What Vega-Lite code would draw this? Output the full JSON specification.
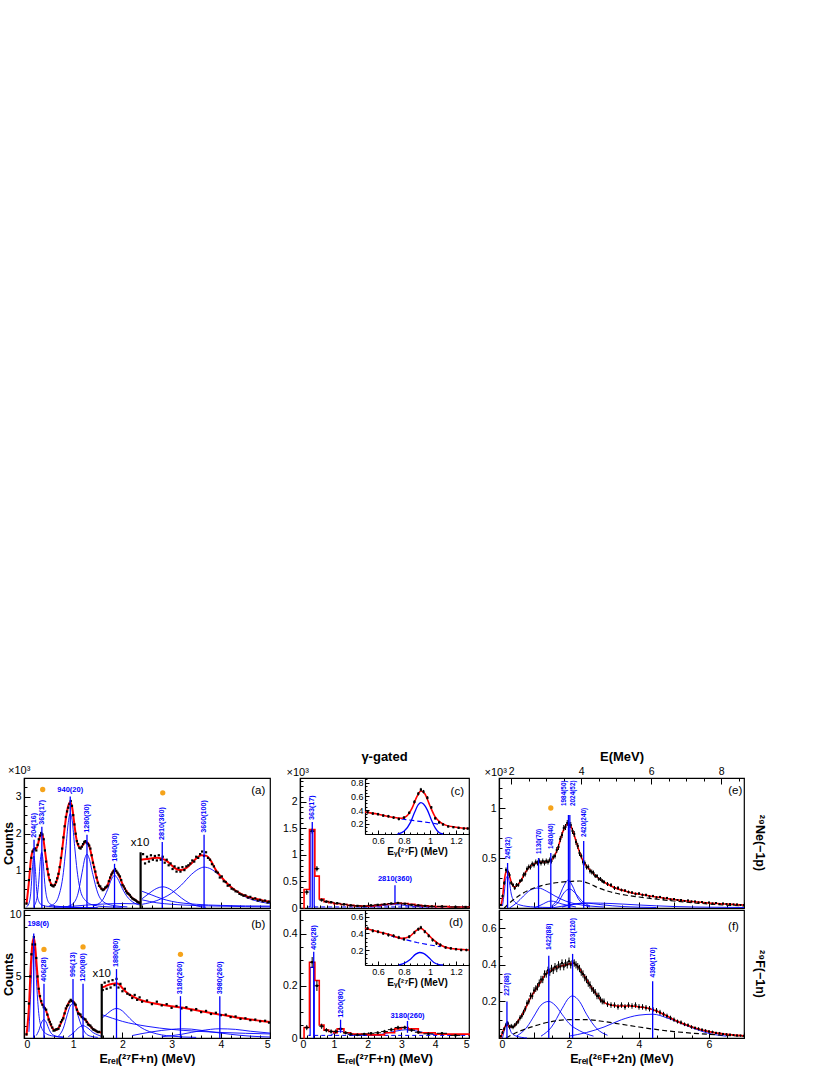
{
"$schema": "https://vega.github.io/schema/vega-lite/v6.json",
"padding": {"left": 1, "top": 749, "right": 5, "bottom": 5},
"background": "white",
"config": {
  "font": "Liberation Sans",
  "view": {"stroke": "black", "strokeWidth": 1.2},
  "axis": {"grid": false, "domainColor": "black", "domainWidth": 1.2, "tickColor": "black", "tickWidth": 1, "tickSize": -5, "labelPadding": 9, "labelColor": "black", "labelFont": "Liberation Sans", "labelFontSize": 10.5, "titleFont": "Liberation Sans", "titleFontWeight": "bold", "titleFontSize": 12.5, "titleColor": "black"},
  "title": {"font": "Liberation Sans", "color": "black"},
  "text": {"font": "Liberation Sans"}
},
"columns": 3,
"spacing": {"row": 2, "column": 30},
"bounds": "flush",
"datasets": {
  "a_pts": [
    {"x":0.05,"y":0.12},{"x":0.1,"y":0.75},{"x":0.125,"y":1.05},{"x":0.15,"y":1.35},{"x":0.175,"y":1.52},{"x":0.2,"y":1.58},{"x":0.225,"y":1.6},{"x":0.25,"y":1.55},{"x":0.275,"y":1.7},{"x":0.3,"y":1.85},{"x":0.325,"y":1.95},{"x":0.35,"y":2.02},{"x":0.375,"y":1.98},{"x":0.4,"y":1.85},{"x":0.425,"y":1.55},{"x":0.45,"y":1.25},{"x":0.475,"y":1.05},{"x":0.5,"y":0.9},{"x":0.525,"y":0.75},{"x":0.55,"y":0.62},{"x":0.575,"y":0.6},{"x":0.6,"y":0.58},{"x":0.625,"y":0.62},{"x":0.65,"y":0.7},{"x":0.675,"y":0.8},{"x":0.7,"y":0.92},{"x":0.725,"y":1.1},{"x":0.75,"y":1.35},{"x":0.775,"y":1.6},{"x":0.8,"y":1.9},{"x":0.825,"y":2.2},{"x":0.85,"y":2.45},{"x":0.875,"y":2.6},{"x":0.9,"y":2.7},{"x":0.925,"y":2.8},{"x":0.95,"y":2.88},{"x":0.975,"y":2.75},{"x":1.0,"y":2.5},{"x":1.025,"y":2.25},{"x":1.05,"y":2.0},{"x":1.075,"y":1.8},{"x":1.1,"y":1.72},{"x":1.125,"y":1.62},{"x":1.15,"y":1.6},{"x":1.175,"y":1.65},{"x":1.2,"y":1.72},{"x":1.225,"y":1.78},{"x":1.25,"y":1.8},{"x":1.275,"y":1.75},{"x":1.3,"y":1.72},{"x":1.325,"y":1.68},{"x":1.35,"y":1.6},{"x":1.375,"y":1.42},{"x":1.4,"y":1.22},{"x":1.425,"y":1.1},{"x":1.45,"y":0.98},{"x":1.475,"y":0.82},{"x":1.5,"y":0.68},{"x":1.525,"y":0.6},{"x":1.55,"y":0.58},{"x":1.575,"y":0.52},{"x":1.6,"y":0.48},{"x":1.625,"y":0.5},{"x":1.65,"y":0.55},{"x":1.675,"y":0.57},{"x":1.7,"y":0.6},{"x":1.725,"y":0.72},{"x":1.75,"y":0.82},{"x":1.775,"y":0.9},{"x":1.8,"y":0.95},{"x":1.825,"y":1.0},{"x":1.85,"y":1.05},{"x":1.875,"y":1.0},{"x":1.9,"y":0.95},{"x":1.925,"y":0.9},{"x":1.95,"y":0.85},{"x":1.975,"y":0.75},{"x":2.0,"y":0.62},{"x":2.025,"y":0.58},{"x":2.05,"y":0.52},{"x":2.075,"y":0.45},{"x":2.1,"y":0.4},{"x":2.125,"y":0.38},{"x":2.15,"y":0.35},{"x":2.175,"y":0.3},{"x":2.2,"y":0.26},{"x":2.225,"y":0.24},{"x":2.25,"y":0.22},{"x":2.275,"y":0.2},{"x":2.3,"y":0.17},{"x":2.325,"y":0.15},{"x":2.35,"y":0.14},
    {"x":2.42,"y":1.45},{"x":2.46,"y":1.2},{"x":2.5,"y":1.38},{"x":2.54,"y":1.25},{"x":2.58,"y":1.42},{"x":2.62,"y":1.3},{"x":2.66,"y":1.4},{"x":2.7,"y":1.28},{"x":2.74,"y":1.42},{"x":2.78,"y":1.3},{"x":2.82,"y":1.38},{"x":2.86,"y":1.22},{"x":2.9,"y":1.3},{"x":2.94,"y":1.15},{"x":2.98,"y":1.2},{"x":3.02,"y":1.05},{"x":3.06,"y":1.12},{"x":3.1,"y":0.98},{"x":3.14,"y":1.08},{"x":3.18,"y":0.98},{"x":3.22,"y":1.1},{"x":3.26,"y":1.02},{"x":3.3,"y":1.12},{"x":3.34,"y":1.15},{"x":3.38,"y":1.2},{"x":3.42,"y":1.28},{"x":3.46,"y":1.25},{"x":3.5,"y":1.38},{"x":3.54,"y":1.35},{"x":3.58,"y":1.45},{"x":3.62,"y":1.52},{"x":3.66,"y":1.4},{"x":3.7,"y":1.5},{"x":3.74,"y":1.35},{"x":3.78,"y":1.3},{"x":3.82,"y":1.18},{"x":3.86,"y":1.12},{"x":3.9,"y":0.98},{"x":3.94,"y":0.95},{"x":3.98,"y":0.82},{"x":4.02,"y":0.85},{"x":4.06,"y":0.72},{"x":4.1,"y":0.7},{"x":4.14,"y":0.6},{"x":4.18,"y":0.62},{"x":4.22,"y":0.52},{"x":4.26,"y":0.5},{"x":4.3,"y":0.45},{"x":4.34,"y":0.44},{"x":4.38,"y":0.38},{"x":4.42,"y":0.36},{"x":4.46,"y":0.33},{"x":4.5,"y":0.34},{"x":4.55,"y":0.28},{"x":4.6,"y":0.3},{"x":4.65,"y":0.24},{"x":4.7,"y":0.26},{"x":4.75,"y":0.2},{"x":4.8,"y":0.22},{"x":4.85,"y":0.18},{"x":4.9,"y":0.2},{"x":4.95,"y":0.15},{"x":4.98,"y":0.17}
  ],
  "a_fit": [
    {"s":"L","x":0.05,"y":0.1},{"s":"L","x":0.1,"y":0.7},{"s":"L","x":0.14,"y":1.3},{"s":"L","x":0.18,"y":1.55},{"s":"L","x":0.22,"y":1.6},{"s":"L","x":0.26,"y":1.62},{"s":"L","x":0.3,"y":1.8},{"s":"L","x":0.34,"y":1.98},{"s":"L","x":0.38,"y":1.95},{"s":"L","x":0.42,"y":1.6},{"s":"L","x":0.46,"y":1.2},{"s":"L","x":0.5,"y":0.85},{"s":"L","x":0.55,"y":0.65},{"s":"L","x":0.6,"y":0.6},{"s":"L","x":0.65,"y":0.68},{"s":"L","x":0.7,"y":0.9},{"s":"L","x":0.75,"y":1.3},{"s":"L","x":0.8,"y":1.85},{"s":"L","x":0.85,"y":2.4},{"s":"L","x":0.9,"y":2.75},{"s":"L","x":0.94,"y":2.85},{"s":"L","x":0.98,"y":2.7},{"s":"L","x":1.02,"y":2.3},{"s":"L","x":1.06,"y":1.9},{"s":"L","x":1.1,"y":1.68},{"s":"L","x":1.15,"y":1.62},{"s":"L","x":1.2,"y":1.7},{"s":"L","x":1.25,"y":1.78},{"s":"L","x":1.3,"y":1.75},{"s":"L","x":1.35,"y":1.55},{"s":"L","x":1.4,"y":1.25},{"s":"L","x":1.45,"y":0.95},{"s":"L","x":1.5,"y":0.7},{"s":"L","x":1.55,"y":0.55},{"s":"L","x":1.6,"y":0.5},{"s":"L","x":1.65,"y":0.52},{"s":"L","x":1.7,"y":0.62},{"s":"L","x":1.75,"y":0.8},{"s":"L","x":1.8,"y":0.97},{"s":"L","x":1.84,"y":1.02},{"s":"L","x":1.88,"y":0.98},{"s":"L","x":1.95,"y":0.82},{"s":"L","x":2.0,"y":0.65},{"s":"L","x":2.1,"y":0.42},{"s":"L","x":2.2,"y":0.27},{"s":"L","x":2.3,"y":0.18},{"s":"L","x":2.37,"y":0.13},
    {"s":"R","x":2.37,"y":1.3},{"s":"R","x":2.5,"y":1.32},{"s":"R","x":2.6,"y":1.34},{"s":"R","x":2.7,"y":1.35},{"s":"R","x":2.8,"y":1.33},{"s":"R","x":2.9,"y":1.27},{"s":"R","x":3.0,"y":1.15},{"s":"R","x":3.1,"y":1.05},{"s":"R","x":3.2,"y":1.02},{"s":"R","x":3.3,"y":1.08},{"s":"R","x":3.4,"y":1.2},{"s":"R","x":3.5,"y":1.33},{"s":"R","x":3.6,"y":1.42},{"s":"R","x":3.7,"y":1.41},{"s":"R","x":3.8,"y":1.27},{"s":"R","x":3.9,"y":1.02},{"s":"R","x":4.0,"y":0.85},{"s":"R","x":4.1,"y":0.7},{"s":"R","x":4.2,"y":0.57},{"s":"R","x":4.3,"y":0.47},{"s":"R","x":4.4,"y":0.39},{"s":"R","x":4.5,"y":0.33},{"s":"R","x":4.6,"y":0.28},{"s":"R","x":4.7,"y":0.25},{"s":"R","x":4.8,"y":0.22},{"s":"R","x":4.9,"y":0.19},{"s":"R","x":5.0,"y":0.17}
  ],
  "a_cmp": [
    {"c":"1","x":0.05,"y":0.03},{"c":"1","x":0.1,"y":0.12},{"c":"1","x":0.14,"y":0.45},{"c":"1","x":0.17,"y":1.05},{"c":"1","x":0.2,"y":1.4},{"c":"1","x":0.23,"y":1.05},{"c":"1","x":0.26,"y":0.45},{"c":"1","x":0.3,"y":0.18},{"c":"1","x":0.36,"y":0.08},{"c":"1","x":0.5,"y":0.04},{"c":"1","x":0.8,"y":0.02},{"c":"1","x":1.2,"y":0.01},
    {"c":"2","x":0.2,"y":0.05},{"c":"2","x":0.26,"y":0.25},{"c":"2","x":0.3,"y":0.7},{"c":"2","x":0.33,"y":1.25},{"c":"2","x":0.36,"y":1.5},{"c":"2","x":0.39,"y":1.25},{"c":"2","x":0.42,"y":0.7},{"c":"2","x":0.46,"y":0.3},{"c":"2","x":0.52,"y":0.12},{"c":"2","x":0.65,"y":0.05},{"c":"2","x":1.0,"y":0.02},{"c":"2","x":1.5,"y":0.01},
    {"c":"3","x":0.5,"y":0.05},{"c":"3","x":0.6,"y":0.1},{"c":"3","x":0.7,"y":0.3},{"c":"3","x":0.8,"y":0.95},{"c":"3","x":0.85,"y":1.6},{"c":"3","x":0.9,"y":2.3},{"c":"3","x":0.94,"y":2.55},{"c":"3","x":0.98,"y":2.35},{"c":"3","x":1.03,"y":1.65},{"c":"3","x":1.08,"y":1.0},{"c":"3","x":1.15,"y":0.45},{"c":"3","x":1.25,"y":0.2},{"c":"3","x":1.4,"y":0.08},{"c":"3","x":1.6,"y":0.04},{"c":"3","x":2.0,"y":0.02},
    {"c":"4","x":0.9,"y":0.05},{"c":"4","x":1.0,"y":0.12},{"c":"4","x":1.1,"y":0.4},{"c":"4","x":1.18,"y":0.95},{"c":"4","x":1.24,"y":1.35},{"c":"4","x":1.28,"y":1.45},{"c":"4","x":1.32,"y":1.35},{"c":"4","x":1.4,"y":0.9},{"c":"4","x":1.5,"y":0.4},{"c":"4","x":1.6,"y":0.18},{"c":"4","x":1.8,"y":0.07},{"c":"4","x":2.1,"y":0.03},
    {"c":"5","x":1.4,"y":0.05},{"c":"5","x":1.5,"y":0.1},{"c":"5","x":1.6,"y":0.22},{"c":"5","x":1.7,"y":0.5},{"c":"5","x":1.78,"y":0.78},{"c":"5","x":1.84,"y":0.88},{"c":"5","x":1.9,"y":0.8},{"c":"5","x":2.0,"y":0.52},{"c":"5","x":2.1,"y":0.3},{"c":"5","x":2.2,"y":0.17},{"c":"5","x":2.3,"y":0.1},{"c":"5","x":2.37,"y":0.08},
    {"c":"6","x":2.4,"y":0.25},{"c":"6","x":2.5,"y":0.35},{"c":"6","x":2.6,"y":0.45},{"c":"6","x":2.7,"y":0.53},{"c":"6","x":2.82,"y":0.57},{"c":"6","x":2.95,"y":0.52},{"c":"6","x":3.05,"y":0.43},{"c":"6","x":3.2,"y":0.27},{"c":"6","x":3.35,"y":0.14},{"c":"6","x":3.5,"y":0.06},{"c":"6","x":3.7,"y":0.02},
    {"c":"7","x":2.4,"y":0.1},{"c":"7","x":2.7,"y":0.2},{"c":"7","x":3.0,"y":0.4},{"c":"7","x":3.2,"y":0.62},{"c":"7","x":3.4,"y":0.9},{"c":"7","x":3.55,"y":1.05},{"c":"7","x":3.66,"y":1.1},{"c":"7","x":3.8,"y":1.05},{"c":"7","x":3.95,"y":0.9},{"c":"7","x":4.1,"y":0.7},{"c":"7","x":4.3,"y":0.47},{"c":"7","x":4.5,"y":0.3},{"c":"7","x":4.7,"y":0.2},{"c":"7","x":4.9,"y":0.14},{"c":"7","x":5.0,"y":0.12},
    {"c":"8","x":2.4,"y":0.45},{"c":"8","x":2.6,"y":0.35},{"c":"8","x":2.8,"y":0.25},{"c":"8","x":3.0,"y":0.18},{"c":"8","x":3.5,"y":0.1},{"c":"8","x":4.0,"y":0.07},{"c":"8","x":5.0,"y":0.05},
    {"c":"9","x":2.4,"y":0.22},{"c":"9","x":2.7,"y":0.14},{"c":"9","x":3.0,"y":0.1},{"c":"9","x":4.0,"y":0.05},{"c":"9","x":5.0,"y":0.03},
    {"c":"10","x":0.6,"y":0.02},{"c":"10","x":1.0,"y":0.05},{"c":"10","x":1.5,"y":0.1},{"c":"10","x":2.0,"y":0.12},{"c":"10","x":2.37,"y":0.11}
  ],
  "a_rule": [{"x":0.204,"y":1.84,"y0":0},{"x":0.363,"y":2.19,"y0":0},{"x":0.94,"y":3.0,"y0":0},{"x":1.28,"y":1.97,"y0":0},{"x":1.84,"y":1.19,"y0":0},{"x":2.81,"y":1.78,"y0":0},{"x":3.66,"y":1.97,"y0":0}],
  "a_lab": [{"x":0.204,"y":1.84,"t":"204(16)"},{"x":0.363,"y":2.19,"t":"363(17)"},{"x":1.28,"y":1.97,"t":"1280(30)"},{"x":1.84,"y":1.19,"t":"1840(30)"},{"x":2.81,"y":1.78,"t":"2810(360)"},{"x":3.66,"y":1.97,"t":"3660(100)"}],
  "a_labh": [{"x":0.94,"y":3.08,"t":"940(20)"}],
  "a_dot": [{"x":0.38,"y":3.19},{"x":2.82,"y":3.1}],
  "a_bar": [{"x":2.37,"y":1.5,"y0":0}],
  "a_txt": [{"x":2.36,"y":1.74,"t":"x10"},{"x":4.76,"y":3.14,"t":"(a)"}],

  "b_pts": [
    {"x":0.05,"y":0.3},{"x":0.1,"y":2.8},{"x":0.125,"y":5.0},{"x":0.15,"y":6.8},{"x":0.175,"y":7.6},{"x":0.2,"y":8.2},{"x":0.225,"y":7.6},{"x":0.25,"y":6.5},{"x":0.275,"y":5.0},{"x":0.3,"y":4.0},{"x":0.325,"y":3.4},{"x":0.35,"y":3.0},{"x":0.375,"y":2.7},{"x":0.4,"y":2.5},{"x":0.425,"y":2.4},{"x":0.45,"y":2.3},{"x":0.475,"y":1.9},{"x":0.5,"y":1.5},{"x":0.525,"y":1.3},{"x":0.55,"y":1.1},{"x":0.575,"y":0.85},{"x":0.6,"y":0.6},{"x":0.625,"y":0.62},{"x":0.65,"y":0.7},{"x":0.675,"y":0.72},{"x":0.7,"y":0.75},{"x":0.725,"y":1.0},{"x":0.75,"y":1.3},{"x":0.775,"y":1.45},{"x":0.8,"y":1.6},{"x":0.825,"y":2.0},{"x":0.85,"y":2.4},{"x":0.875,"y":2.6},{"x":0.9,"y":2.7},{"x":0.925,"y":2.95},{"x":0.95,"y":3.1},{"x":0.975,"y":3.0},{"x":1.0,"y":2.9},{"x":1.025,"y":2.8},{"x":1.05,"y":2.7},{"x":1.075,"y":2.3},{"x":1.1,"y":2.0},{"x":1.125,"y":1.95},{"x":1.15,"y":1.9},{"x":1.175,"y":1.7},{"x":1.2,"y":1.6},{"x":1.225,"y":1.55},{"x":1.25,"y":1.5},{"x":1.275,"y":1.3},{"x":1.3,"y":1.1},{"x":1.325,"y":1.05},{"x":1.35,"y":1.0},{"x":1.375,"y":0.85},{"x":1.4,"y":0.7},{"x":1.425,"y":0.68},{"x":1.45,"y":0.62},{"x":1.475,"y":0.55},{"x":1.5,"y":0.48},{"x":1.525,"y":0.5},
    {"x":1.6,"y":3.9},{"x":1.64,"y":4.5},{"x":1.68,"y":4.0},{"x":1.72,"y":4.6},{"x":1.76,"y":4.1},{"x":1.8,"y":4.7},{"x":1.84,"y":4.3},{"x":1.88,"y":4.8},{"x":1.92,"y":4.1},{"x":1.96,"y":4.4},{"x":2.0,"y":3.8},{"x":2.05,"y":4.0},{"x":2.1,"y":3.6},{"x":2.15,"y":3.5},{"x":2.2,"y":3.25},{"x":2.25,"y":3.5},{"x":2.3,"y":3.1},{"x":2.35,"y":3.3},{"x":2.4,"y":2.95},{"x":2.5,"y":3.05},{"x":2.6,"y":2.75},{"x":2.7,"y":2.95},{"x":2.8,"y":2.65},{"x":2.9,"y":2.75},{"x":3.0,"y":2.45},{"x":3.1,"y":2.6},{"x":3.2,"y":2.4},{"x":3.3,"y":2.5},{"x":3.4,"y":2.25},{"x":3.5,"y":2.35},{"x":3.6,"y":2.1},{"x":3.7,"y":2.2},{"x":3.8,"y":1.95},{"x":3.9,"y":2.05},{"x":4.0,"y":1.85},{"x":4.1,"y":1.9},{"x":4.2,"y":1.7},{"x":4.3,"y":1.75},{"x":4.4,"y":1.55},{"x":4.5,"y":1.6},{"x":4.6,"y":1.45},{"x":4.7,"y":1.5},{"x":4.8,"y":1.35},{"x":4.9,"y":1.4},{"x":4.98,"y":1.25}
  ],
  "b_fit": [
    {"s":"L","x":0.05,"y":0.2},{"s":"L","x":0.1,"y":2.5},{"s":"L","x":0.14,"y":6.0},{"s":"L","x":0.18,"y":7.9},{"s":"L","x":0.2,"y":8.1},{"s":"L","x":0.22,"y":7.7},{"s":"L","x":0.26,"y":5.8},{"s":"L","x":0.3,"y":3.9},{"s":"L","x":0.35,"y":2.9},{"s":"L","x":0.4,"y":2.6},{"s":"L","x":0.45,"y":2.2},{"s":"L","x":0.5,"y":1.6},{"s":"L","x":0.55,"y":1.0},{"s":"L","x":0.6,"y":0.7},{"s":"L","x":0.65,"y":0.65},{"s":"L","x":0.7,"y":0.8},{"s":"L","x":0.75,"y":1.2},{"s":"L","x":0.8,"y":1.7},{"s":"L","x":0.85,"y":2.3},{"s":"L","x":0.9,"y":2.8},{"s":"L","x":0.95,"y":3.05},{"s":"L","x":1.0,"y":3.0},{"s":"L","x":1.05,"y":2.6},{"s":"L","x":1.1,"y":2.1},{"s":"L","x":1.15,"y":1.8},{"s":"L","x":1.2,"y":1.65},{"s":"L","x":1.25,"y":1.45},{"s":"L","x":1.3,"y":1.2},{"s":"L","x":1.35,"y":0.95},{"s":"L","x":1.4,"y":0.75},{"s":"L","x":1.45,"y":0.6},{"s":"L","x":1.5,"y":0.5},{"s":"L","x":1.58,"y":0.45},
    {"s":"R","x":1.58,"y":4.1},{"s":"R","x":1.65,"y":4.2},{"s":"R","x":1.7,"y":4.3},{"s":"R","x":1.8,"y":4.4},{"s":"R","x":1.88,"y":4.45},{"s":"R","x":1.95,"y":4.3},{"s":"R","x":2.0,"y":4.05},{"s":"R","x":2.1,"y":3.65},{"s":"R","x":2.2,"y":3.4},{"s":"R","x":2.3,"y":3.2},{"s":"R","x":2.4,"y":3.05},{"s":"R","x":2.6,"y":2.85},{"s":"R","x":2.8,"y":2.7},{"s":"R","x":3.0,"y":2.58},{"s":"R","x":3.2,"y":2.47},{"s":"R","x":3.4,"y":2.33},{"s":"R","x":3.6,"y":2.18},{"s":"R","x":3.8,"y":2.03},{"s":"R","x":4.0,"y":1.9},{"s":"R","x":4.2,"y":1.76},{"s":"R","x":4.4,"y":1.62},{"s":"R","x":4.6,"y":1.5},{"s":"R","x":4.8,"y":1.4},{"s":"R","x":5.0,"y":1.3}
  ],
  "b_cmp": [
    {"c":"1","x":0.1,"y":0.5},{"c":"1","x":0.14,"y":4.0},{"c":"1","x":0.17,"y":6.8},{"c":"1","x":0.2,"y":7.4},{"c":"1","x":0.23,"y":6.5},{"c":"1","x":0.26,"y":4.2},{"c":"1","x":0.3,"y":2.0},{"c":"1","x":0.35,"y":0.9},{"c":"1","x":0.45,"y":0.35},{"c":"1","x":0.6,"y":0.15},{"c":"1","x":0.8,"y":0.07},
    {"c":"2","x":0.25,"y":0.2},{"c":"2","x":0.3,"y":0.6},{"c":"2","x":0.35,"y":1.2},{"c":"2","x":0.4,"y":1.5},{"c":"2","x":0.45,"y":1.3},{"c":"2","x":0.5,"y":0.8},{"c":"2","x":0.55,"y":0.4},{"c":"2","x":0.65,"y":0.15},{"c":"2","x":0.8,"y":0.05},
    {"c":"3","x":0.7,"y":0.15},{"c":"3","x":0.8,"y":0.8},{"c":"3","x":0.88,"y":1.9},{"c":"3","x":0.94,"y":2.6},{"c":"3","x":1.0,"y":2.8},{"c":"3","x":1.05,"y":2.5},{"c":"3","x":1.1,"y":1.8},{"c":"3","x":1.18,"y":0.9},{"c":"3","x":1.25,"y":0.4},{"c":"3","x":1.35,"y":0.15},{"c":"3","x":1.5,"y":0.05},
    {"c":"4","x":0.9,"y":0.1},{"c":"4","x":1.0,"y":0.4},{"c":"4","x":1.1,"y":0.8},{"c":"4","x":1.2,"y":1.0},{"c":"4","x":1.3,"y":0.8},{"c":"4","x":1.4,"y":0.45},{"c":"4","x":1.5,"y":0.25},{"c":"4","x":1.58,"y":0.12},
    {"c":"5","x":1.58,"y":1.6},{"c":"5","x":1.7,"y":2.0},{"c":"5","x":1.8,"y":2.3},{"c":"5","x":1.88,"y":2.4},{"c":"5","x":2.0,"y":2.2},{"c":"5","x":2.1,"y":1.8},{"c":"5","x":2.2,"y":1.4},{"c":"5","x":2.4,"y":0.8},{"c":"5","x":2.6,"y":0.45},{"c":"5","x":2.8,"y":0.25},{"c":"5","x":3.0,"y":0.15},{"c":"5","x":3.5,"y":0.05},
    {"c":"6","x":1.58,"y":1.9},{"c":"6","x":1.8,"y":1.6},{"c":"6","x":2.0,"y":1.35},{"c":"6","x":2.5,"y":0.95},{"c":"6","x":3.0,"y":0.7},{"c":"6","x":3.5,"y":0.55},{"c":"6","x":4.0,"y":0.45},{"c":"6","x":5.0,"y":0.33},
    {"c":"7","x":2.2,"y":0.2},{"c":"7","x":2.6,"y":0.5},{"c":"7","x":3.0,"y":0.7},{"c":"7","x":3.2,"y":0.75},{"c":"7","x":3.4,"y":0.72},{"c":"7","x":3.8,"y":0.5},{"c":"7","x":4.2,"y":0.3},{"c":"7","x":4.6,"y":0.15},{"c":"7","x":5.0,"y":0.08},
    {"c":"8","x":2.8,"y":0.1},{"c":"8","x":3.2,"y":0.3},{"c":"8","x":3.6,"y":0.6},{"c":"8","x":3.98,"y":0.75},{"c":"8","x":4.3,"y":0.7},{"c":"8","x":4.6,"y":0.55},{"c":"8","x":5.0,"y":0.4}
  ],
  "b_rule": [{"x":0.198,"y":8.5,"y0":0},{"x":0.406,"y":4.4,"y0":0},{"x":0.996,"y":4.8,"y0":0},{"x":1.2,"y":4.4,"y0":0},{"x":1.88,"y":5.6,"y0":0},{"x":3.18,"y":3.4,"y0":0},{"x":3.98,"y":3.4,"y0":0}],
  "b_lab": [{"x":0.406,"y":4.4,"t":"406(28)"},{"x":0.996,"y":4.8,"t":"996(13)"},{"x":1.2,"y":4.4,"t":"1200(80)"},{"x":1.88,"y":5.6,"t":"1880(80)"},{"x":3.18,"y":3.4,"t":"3180(260)"},{"x":3.98,"y":3.4,"t":"3980(260)"}],
  "b_labh": [{"x":0.29,"y":8.9,"t":"198(6)"}],
  "b_dot": [{"x":0.406,"y":7.2},{"x":1.2,"y":7.4},{"x":3.18,"y":6.8}],
  "b_bar": [{"x":1.58,"y":4.4,"y0":0}],
  "b_txt": [{"x":1.58,"y":5.2,"t":"x10"},{"x":4.76,"y":9.2,"t":"(b)"}],

  "c_hist": [{"x":0.1,"y":0},{"x":0.12,"y":0.35},{"x":0.28,"y":1.48},{"x":0.44,"y":0.6},{"x":0.57,"y":0.17},{"x":0.71,"y":0.12},{"x":0.85,"y":0.1},{"x":1.0,"y":0.08},{"x":1.2,"y":0.065},{"x":1.4,"y":0.05},{"x":1.6,"y":0.04},{"x":1.8,"y":0.035},{"x":2.0,"y":0.04},{"x":2.2,"y":0.05},{"x":2.4,"y":0.065},{"x":2.6,"y":0.08},{"x":2.8,"y":0.09},{"x":3.0,"y":0.085},{"x":3.2,"y":0.07},{"x":3.4,"y":0.05},{"x":3.6,"y":0.04},{"x":3.8,"y":0.03},{"x":4.0,"y":0.025},{"x":4.4,"y":0.02},{"x":5.0,"y":0.015}],
  "c_blue": [{"x":0.25,"y":0.02},{"x":0.3,"y":1.45},{"x":0.42,"y":0.02}],
  "c_base": [{"x":0.42,"y":0.02},{"x":5.0,"y":0.02}],
  "c_cmp": [{"x":1.8,"y":0.02},{"x":2.2,"y":0.03},{"x":2.5,"y":0.05},{"x":2.8,"y":0.065},{"x":3.1,"y":0.05},{"x":3.4,"y":0.03},{"x":3.8,"y":0.02}],
  "c_pts": [{"x":0.2,"y":0.3,"e":0.05,"xe":0.07},{"x":0.36,"y":1.45,"e":0.05,"xe":0.07},{"x":0.5,"y":0.74,"e":0.05,"xe":0.07},{"x":0.64,"y":0.15,"e":0.03,"xe":0.07},{"x":0.78,"y":0.12,"e":0.02,"xe":0.07},{"x":0.92,"y":0.11,"e":0.02,"xe":0.07},{"x":1.1,"y":0.09,"e":0.02,"xe":0.1},{"x":1.3,"y":0.07,"e":0.02,"xe":0.1},{"x":1.5,"y":0.05,"e":0.015,"xe":0.1},{"x":1.7,"y":0.04,"e":0.015,"xe":0.1},{"x":1.9,"y":0.035,"e":0.015,"xe":0.1},{"x":2.1,"y":0.05,"e":0.015,"xe":0.1},{"x":2.3,"y":0.06,"e":0.015,"xe":0.1},{"x":2.5,"y":0.07,"e":0.015,"xe":0.1},{"x":2.7,"y":0.085,"e":0.015,"xe":0.1},{"x":2.9,"y":0.095,"e":0.015,"xe":0.1},{"x":3.1,"y":0.08,"e":0.015,"xe":0.1},{"x":3.3,"y":0.06,"e":0.015,"xe":0.1},{"x":3.5,"y":0.05,"e":0.015,"xe":0.1},{"x":3.7,"y":0.04,"e":0.012,"xe":0.1},{"x":3.9,"y":0.03,"e":0.012,"xe":0.1},{"x":4.2,"y":0.03,"e":0.012,"xe":0.15},{"x":4.6,"y":0.02,"e":0.01,"xe":0.15},{"x":4.9,"y":0.02,"e":0.01,"xe":0.1}],
  "c_rule": [{"x":0.363,"y":1.62,"y0":0},{"x":2.81,"y":0.43,"y0":0.1}],
  "c_lab": [{"x":0.363,"y":1.62,"t":"363(17)"}],
  "c_labh": [{"x":2.81,"y":0.47,"t":"2810(360)"}],
  "ci_pts": [{"x":0.52,"y":0.37,"e":0.02},{"x":0.56,"y":0.35,"e":0.02},{"x":0.6,"y":0.34,"e":0.02},{"x":0.64,"y":0.32,"e":0.02},{"x":0.68,"y":0.31,"e":0.02},{"x":0.72,"y":0.29,"e":0.02},{"x":0.76,"y":0.27,"e":0.02},{"x":0.8,"y":0.29,"e":0.02},{"x":0.84,"y":0.36,"e":0.02},{"x":0.88,"y":0.52,"e":0.025},{"x":0.91,"y":0.64,"e":0.025},{"x":0.93,"y":0.7,"e":0.025},{"x":0.95,"y":0.67,"e":0.025},{"x":0.98,"y":0.58,"e":0.025},{"x":1.01,"y":0.44,"e":0.02},{"x":1.04,"y":0.28,"e":0.02},{"x":1.07,"y":0.22,"e":0.02},{"x":1.1,"y":0.19,"e":0.02},{"x":1.14,"y":0.16,"e":0.015},{"x":1.18,"y":0.15,"e":0.015},{"x":1.22,"y":0.14,"e":0.015},{"x":1.26,"y":0.13,"e":0.015},{"x":1.29,"y":0.13,"e":0.015}],
  "ci_fit": [{"x":0.5,"y":0.37},{"x":0.6,"y":0.34},{"x":0.7,"y":0.3},{"x":0.78,"y":0.28},{"x":0.82,"y":0.31},{"x":0.86,"y":0.42},{"x":0.9,"y":0.6},{"x":0.93,"y":0.68},{"x":0.96,"y":0.64},{"x":1.0,"y":0.46},{"x":1.04,"y":0.3},{"x":1.08,"y":0.22},{"x":1.12,"y":0.18},{"x":1.2,"y":0.15},{"x":1.3,"y":0.13}],
  "ci_g": [{"x":0.75,"y":0.05},{"x":0.8,"y":0.09},{"x":0.85,"y":0.22},{"x":0.88,"y":0.36},{"x":0.91,"y":0.48},{"x":0.93,"y":0.51},{"x":0.95,"y":0.49},{"x":0.98,"y":0.4},{"x":1.01,"y":0.26},{"x":1.04,"y":0.14},{"x":1.07,"y":0.07},{"x":1.1,"y":0.05}],
  "ci_bg": [{"x":0.78,"y":0.27},{"x":0.9,"y":0.24},{"x":1.0,"y":0.215},{"x":1.08,"y":0.19}],
  "ci_txt": [{"x":1.21,"y":0.67,"t":"(c)"}],

  "d_hist": [{"x":0.1,"y":0},{"x":0.12,"y":0.04},{"x":0.28,"y":0.29},{"x":0.44,"y":0.22},{"x":0.57,"y":0.05},{"x":0.71,"y":0.03},{"x":0.85,"y":0.025},{"x":1.0,"y":0.02},{"x":1.1,"y":0.035},{"x":1.3,"y":0.02},{"x":1.5,"y":0.015},{"x":2.0,"y":0.012},{"x":2.5,"y":0.02},{"x":2.8,"y":0.035},{"x":3.0,"y":0.04},{"x":3.2,"y":0.035},{"x":3.5,"y":0.02},{"x":4.0,"y":0.015},{"x":5.0,"y":0.01}],
  "d_blue": [{"x":0.25,"y":0.01},{"x":0.3,"y":0.27},{"x":0.42,"y":0.01}],
  "d_base": [{"x":0.42,"y":0.01},{"x":5.0,"y":0.01}],
  "d_cmp": [{"x":0.9,"y":0.01},{"x":1.05,"y":0.02},{"x":1.2,"y":0.026},{"x":1.35,"y":0.02},{"x":1.5,"y":0.01},{"x":2.2,"y":0.01},{"x":2.6,"y":0.02},{"x":3.0,"y":0.03},{"x":3.2,"y":0.032},{"x":3.5,"y":0.025},{"x":4.0,"y":0.012}],
  "d_pts": [{"x":0.2,"y":0.04,"e":0.01,"xe":0.07},{"x":0.36,"y":0.29,"e":0.02,"xe":0.07},{"x":0.5,"y":0.2,"e":0.02,"xe":0.07},{"x":0.64,"y":0.045,"e":0.01,"xe":0.07},{"x":0.78,"y":0.03,"e":0.008,"xe":0.07},{"x":0.92,"y":0.025,"e":0.008,"xe":0.07},{"x":1.06,"y":0.025,"e":0.008,"xe":0.07},{"x":1.2,"y":0.035,"e":0.008,"xe":0.07},{"x":1.35,"y":0.02,"e":0.006,"xe":0.08},{"x":1.5,"y":0.015,"e":0.006,"xe":0.08},{"x":1.7,"y":0.012,"e":0.005,"xe":0.1},{"x":1.9,"y":0.015,"e":0.005,"xe":0.1},{"x":2.1,"y":0.018,"e":0.005,"xe":0.1},{"x":2.3,"y":0.02,"e":0.006,"xe":0.1},{"x":2.5,"y":0.025,"e":0.006,"xe":0.1},{"x":2.7,"y":0.032,"e":0.007,"xe":0.1},{"x":2.9,"y":0.04,"e":0.007,"xe":0.1},{"x":3.1,"y":0.04,"e":0.007,"xe":0.1},{"x":3.3,"y":0.03,"e":0.006,"xe":0.1},{"x":3.5,"y":0.022,"e":0.006,"xe":0.1},{"x":3.8,"y":0.016,"e":0.005,"xe":0.15},{"x":4.2,"y":0.018,"e":0.005,"xe":0.15},{"x":4.6,"y":0.01,"e":0.004,"xe":0.15}],
  "d_rule": [{"x":0.406,"y":0.33,"y0":0},{"x":1.2,"y":0.07,"y0":0.02},{"x":3.18,"y":0.065,"y0":0.02}],
  "d_lab": [{"x":0.406,"y":0.33,"t":"406(28)"},{"x":1.2,"y":0.07,"t":"1200(80)"}],
  "d_labh": [{"x":3.18,"y":0.07,"t":"3180(260)"}],
  "di_pts": [{"x":0.52,"y":0.46,"e":0.02},{"x":0.56,"y":0.43,"e":0.02},{"x":0.6,"y":0.42,"e":0.02},{"x":0.64,"y":0.4,"e":0.02},{"x":0.68,"y":0.38,"e":0.02},{"x":0.72,"y":0.37,"e":0.02},{"x":0.76,"y":0.35,"e":0.02},{"x":0.8,"y":0.33,"e":0.02},{"x":0.84,"y":0.36,"e":0.02},{"x":0.88,"y":0.41,"e":0.02},{"x":0.91,"y":0.45,"e":0.02},{"x":0.93,"y":0.47,"e":0.02},{"x":0.96,"y":0.42,"e":0.02},{"x":0.99,"y":0.37,"e":0.02},{"x":1.02,"y":0.32,"e":0.02},{"x":1.05,"y":0.28,"e":0.02},{"x":1.08,"y":0.26,"e":0.02},{"x":1.12,"y":0.23,"e":0.015},{"x":1.16,"y":0.22,"e":0.015},{"x":1.2,"y":0.21,"e":0.015},{"x":1.24,"y":0.2,"e":0.015},{"x":1.28,"y":0.2,"e":0.015}],
  "di_fit": [{"x":0.5,"y":0.46},{"x":0.6,"y":0.42},{"x":0.7,"y":0.38},{"x":0.78,"y":0.34},{"x":0.84,"y":0.36},{"x":0.9,"y":0.44},{"x":0.93,"y":0.46},{"x":0.97,"y":0.41},{"x":1.02,"y":0.33},{"x":1.08,"y":0.26},{"x":1.15,"y":0.22},{"x":1.3,"y":0.2}],
  "di_g": [{"x":0.76,"y":0.02},{"x":0.8,"y":0.04},{"x":0.85,"y":0.09},{"x":0.89,"y":0.15},{"x":0.92,"y":0.17},{"x":0.95,"y":0.16},{"x":0.99,"y":0.11},{"x":1.03,"y":0.05},{"x":1.07,"y":0.025},{"x":1.1,"y":0.02}],
  "di_bg": [{"x":0.7,"y":0.37},{"x":0.8,"y":0.33},{"x":0.9,"y":0.29},{"x":1.0,"y":0.26},{"x":1.08,"y":0.24}],
  "di_txt": [{"x":1.2,"y":0.53,"t":"(d)"}],

  "e_pts": [
    {"x":0.05,"y":0.03,"e":0.01},{"x":0.1,"y":0.12,"e":0.015},{"x":0.15,"y":0.25,"e":0.02},{"x":0.2,"y":0.38,"e":0.025},{"x":0.25,"y":0.36,"e":0.025},{"x":0.3,"y":0.33,"e":0.025},{"x":0.35,"y":0.25,"e":0.02},{"x":0.4,"y":0.23,"e":0.02},{"x":0.45,"y":0.2,"e":0.02},{"x":0.5,"y":0.23,"e":0.02},{"x":0.55,"y":0.23,"e":0.02},{"x":0.6,"y":0.27,"e":0.02},{"x":0.65,"y":0.28,"e":0.02},{"x":0.7,"y":0.33,"e":0.025},{"x":0.75,"y":0.34,"e":0.025},{"x":0.8,"y":0.39,"e":0.025},{"x":0.85,"y":0.41,"e":0.025},{"x":0.9,"y":0.41,"e":0.025},{"x":0.95,"y":0.44,"e":0.025},{"x":1.0,"y":0.43,"e":0.025},{"x":1.05,"y":0.46,"e":0.025},{"x":1.1,"y":0.45,"e":0.025},{"x":1.15,"y":0.47,"e":0.025},{"x":1.2,"y":0.45,"e":0.025},{"x":1.25,"y":0.47,"e":0.025},{"x":1.3,"y":0.45,"e":0.025},{"x":1.35,"y":0.47,"e":0.025},{"x":1.4,"y":0.46,"e":0.025},{"x":1.45,"y":0.48,"e":0.025},{"x":1.5,"y":0.47,"e":0.025},{"x":1.55,"y":0.51,"e":0.025},{"x":1.6,"y":0.52,"e":0.025},{"x":1.65,"y":0.58,"e":0.03},{"x":1.7,"y":0.61,"e":0.03},{"x":1.75,"y":0.69,"e":0.03},{"x":1.8,"y":0.73,"e":0.03},{"x":1.85,"y":0.8,"e":0.03},{"x":1.9,"y":0.81,"e":0.03},{"x":1.95,"y":0.85,"e":0.03},{"x":2.0,"y":0.83,"e":0.03},{"x":2.05,"y":0.83,"e":0.03},{"x":2.1,"y":0.77,"e":0.03},{"x":2.15,"y":0.74,"e":0.03},{"x":2.2,"y":0.66,"e":0.03},{"x":2.25,"y":0.62,"e":0.03},{"x":2.3,"y":0.55,"e":0.03},{"x":2.35,"y":0.52,"e":0.025},{"x":2.4,"y":0.46,"e":0.025},{"x":2.45,"y":0.45,"e":0.025},{"x":2.5,"y":0.41,"e":0.025},{"x":2.55,"y":0.41,"e":0.025},{"x":2.6,"y":0.37,"e":0.025},{"x":2.65,"y":0.36,"e":0.025},{"x":2.7,"y":0.35,"e":0.025},{"x":2.75,"y":0.32,"e":0.02},{"x":2.8,"y":0.32,"e":0.02},{"x":2.85,"y":0.29,"e":0.02},{"x":2.9,"y":0.29,"e":0.02},{"x":2.95,"y":0.27,"e":0.02},{"x":3.0,"y":0.26,"e":0.02},{"x":3.1,"y":0.24,"e":0.02},{"x":3.2,"y":0.23,"e":0.02},{"x":3.3,"y":0.2,"e":0.02},{"x":3.4,"y":0.2,"e":0.02},{"x":3.5,"y":0.18,"e":0.015},{"x":3.6,"y":0.175,"e":0.015},{"x":3.7,"y":0.16,"e":0.015},{"x":3.8,"y":0.155,"e":0.015},{"x":3.9,"y":0.14,"e":0.015},{"x":4.0,"y":0.145,"e":0.015},{"x":4.1,"y":0.13,"e":0.015},{"x":4.2,"y":0.13,"e":0.015},{"x":4.3,"y":0.115,"e":0.012},{"x":4.4,"y":0.12,"e":0.012},{"x":4.5,"y":0.105,"e":0.012},{"x":4.6,"y":0.11,"e":0.012},{"x":4.7,"y":0.095,"e":0.012},{"x":4.8,"y":0.1,"e":0.012},{"x":4.9,"y":0.085,"e":0.01},{"x":5.0,"y":0.09,"e":0.01},{"x":5.1,"y":0.08,"e":0.01},{"x":5.2,"y":0.08,"e":0.01},{"x":5.3,"y":0.07,"e":0.01},{"x":5.4,"y":0.075,"e":0.01},{"x":5.5,"y":0.065,"e":0.01},{"x":5.6,"y":0.065,"e":0.01},{"x":5.7,"y":0.055,"e":0.01},{"x":5.8,"y":0.06,"e":0.01},{"x":5.9,"y":0.05,"e":0.008},{"x":6.0,"y":0.055,"e":0.008},{"x":6.1,"y":0.045,"e":0.008},{"x":6.2,"y":0.05,"e":0.008},{"x":6.3,"y":0.04,"e":0.008},{"x":6.4,"y":0.045,"e":0.008},{"x":6.5,"y":0.04,"e":0.008},{"x":6.6,"y":0.04,"e":0.008},{"x":6.7,"y":0.035,"e":0.008},{"x":6.8,"y":0.035,"e":0.008},{"x":6.9,"y":0.03,"e":0.008},{"x":7.0,"y":0.03,"e":0.008}
  ],
  "e_fit": [{"x":0.05,"y":0.02},{"x":0.1,"y":0.1},{"x":0.15,"y":0.27},{"x":0.2,"y":0.36},{"x":0.25,"y":0.37},{"x":0.3,"y":0.32},{"x":0.35,"y":0.26},{"x":0.4,"y":0.22},{"x":0.45,"y":0.21},{"x":0.5,"y":0.22},{"x":0.6,"y":0.26},{"x":0.7,"y":0.32},{"x":0.8,"y":0.38},{"x":0.9,"y":0.42},{"x":1.0,"y":0.44},{"x":1.1,"y":0.455},{"x":1.2,"y":0.46},{"x":1.3,"y":0.46},{"x":1.4,"y":0.465},{"x":1.5,"y":0.48},{"x":1.6,"y":0.53},{"x":1.7,"y":0.62},{"x":1.8,"y":0.74},{"x":1.9,"y":0.82},{"x":1.95,"y":0.84},{"x":2.0,"y":0.84},{"x":2.05,"y":0.82},{"x":2.1,"y":0.78},{"x":2.2,"y":0.67},{"x":2.3,"y":0.56},{"x":2.4,"y":0.47},{"x":2.5,"y":0.42},{"x":2.6,"y":0.38},{"x":2.8,"y":0.31},{"x":3.0,"y":0.26},{"x":3.2,"y":0.22},{"x":3.4,"y":0.19},{"x":3.6,"y":0.17},{"x":3.8,"y":0.15},{"x":4.0,"y":0.14},{"x":4.3,"y":0.12},{"x":4.6,"y":0.105},{"x":5.0,"y":0.085},{"x":5.5,"y":0.065},{"x":6.0,"y":0.05},{"x":6.5,"y":0.04},{"x":7.0,"y":0.03}],
  "e_cmp": [
    {"c":"1","x":0.1,"y":0.02},{"c":"1","x":0.15,"y":0.15},{"c":"1","x":0.2,"y":0.3},{"c":"1","x":0.25,"y":0.32},{"c":"1","x":0.3,"y":0.25},{"c":"1","x":0.35,"y":0.14},{"c":"1","x":0.45,"y":0.06},{"c":"1","x":0.6,"y":0.03},{"c":"1","x":1.0,"y":0.01},{"c":"1","x":1.5,"y":0.005},
    {"c":"2","x":0.3,"y":0.0},{"c":"2","x":0.5,"y":0.05},{"c":"2","x":0.7,"y":0.12},{"c":"2","x":0.9,"y":0.18},{"c":"2","x":1.13,"y":0.2},{"c":"2","x":1.35,"y":0.17},{"c":"2","x":1.6,"y":0.12},{"c":"2","x":1.9,"y":0.07},{"c":"2","x":2.2,"y":0.04},{"c":"2","x":2.6,"y":0.02},{"c":"2","x":3.0,"y":0.01},
    {"c":"3","x":1.0,"y":0.0},{"c":"3","x":1.2,"y":0.03},{"c":"3","x":1.48,"y":0.07},{"c":"3","x":1.8,"y":0.04},{"c":"3","x":2.2,"y":0.01},
    {"c":"4","x":1.5,"y":0.02},{"c":"4","x":1.7,"y":0.1},{"c":"4","x":1.85,"y":0.22},{"c":"4","x":1.98,"y":0.28},{"c":"4","x":2.1,"y":0.22},{"c":"4","x":2.25,"y":0.1},{"c":"4","x":2.4,"y":0.04},{"c":"4","x":2.6,"y":0.01},
    {"c":"5","x":1.5,"y":0.01},{"c":"5","x":1.7,"y":0.06},{"c":"5","x":1.85,"y":0.15},{"c":"5","x":2.02,"y":0.19},{"c":"5","x":2.2,"y":0.14},{"c":"5","x":2.4,"y":0.06},{"c":"5","x":2.6,"y":0.02},
    {"c":"6","x":1.5,"y":0.0},{"c":"6","x":2.0,"y":0.03},{"c":"6","x":2.42,"y":0.05},{"c":"6","x":3.0,"y":0.03},{"c":"6","x":3.5,"y":0.015},{"c":"6","x":4.5,"y":0.005},
    {"c":"7","x":1.8,"y":0.01},{"c":"7","x":2.2,"y":0.04},{"c":"7","x":2.6,"y":0.05},{"c":"7","x":3.2,"y":0.045},{"c":"7","x":4.0,"y":0.03},{"c":"7","x":5.0,"y":0.015},{"c":"7","x":6.0,"y":0.008},{"c":"7","x":7.0,"y":0.005}
  ],
  "e_bg": [{"x":0.15,"y":0.0},{"x":0.3,"y":0.05},{"x":0.6,"y":0.13},{"x":1.0,"y":0.2},{"x":1.5,"y":0.245},{"x":2.0,"y":0.265},{"x":2.3,"y":0.27},{"x":2.6,"y":0.24},{"x":2.85,"y":0.2},{"x":3.2,"y":0.16},{"x":3.6,"y":0.13},{"x":4.0,"y":0.11},{"x":5.0,"y":0.07},{"x":6.0,"y":0.04},{"x":7.0,"y":0.02}],
  "e_rule": [{"x":0.245,"y":0.45,"y0":0},{"x":1.13,"y":0.5,"y0":0},{"x":1.48,"y":0.55,"y0":0},{"x":1.984,"y":0.93,"y0":0},{"x":2.024,"y":0.93,"y0":0},{"x":2.42,"y":0.67,"y0":0}],
  "e_lab": [{"x":0.245,"y":0.47,"t":"245(32)"},{"x":1.13,"y":0.52,"t":"1130(70)"},{"x":1.48,"y":0.57,"t":"1480(40)"},{"x":1.87,"y":1.0,"t":"1984(50)"},{"x":2.1,"y":1.0,"t":"2024(52)"},{"x":2.42,"y":0.69,"t":"2420(240)"}],
  "e_dot": [{"x":1.48,"y":1.0}],
  "e_txt": [{"x":6.75,"y":1.17,"t":"(e)"}],
  "e_top": [{"E":2},{"E":8}],

  "f_pts": [
    {"x":0.05,"y":0.01,"e":0.006},{"x":0.1,"y":0.03,"e":0.008},{"x":0.15,"y":0.05,"e":0.01},{"x":0.2,"y":0.07,"e":0.012},{"x":0.25,"y":0.08,"e":0.012},{"x":0.3,"y":0.06,"e":0.012},{"x":0.35,"y":0.065,"e":0.012},{"x":0.4,"y":0.06,"e":0.012},{"x":0.45,"y":0.07,"e":0.012},{"x":0.5,"y":0.08,"e":0.012},{"x":0.55,"y":0.09,"e":0.012},{"x":0.6,"y":0.11,"e":0.014},{"x":0.65,"y":0.12,"e":0.014},{"x":0.7,"y":0.14,"e":0.015},{"x":0.75,"y":0.16,"e":0.015},{"x":0.8,"y":0.19,"e":0.016},{"x":0.85,"y":0.2,"e":0.016},{"x":0.9,"y":0.23,"e":0.018},{"x":0.95,"y":0.23,"e":0.018},{"x":1.0,"y":0.26,"e":0.018},{"x":1.05,"y":0.27,"e":0.018},{"x":1.1,"y":0.28,"e":0.02},{"x":1.15,"y":0.3,"e":0.02},{"x":1.2,"y":0.32,"e":0.02},{"x":1.25,"y":0.32,"e":0.02},{"x":1.3,"y":0.35,"e":0.02},{"x":1.35,"y":0.35,"e":0.02},{"x":1.4,"y":0.37,"e":0.02},{"x":1.45,"y":0.36,"e":0.02},{"x":1.5,"y":0.38,"e":0.02},{"x":1.55,"y":0.37,"e":0.02},{"x":1.6,"y":0.39,"e":0.02},{"x":1.65,"y":0.38,"e":0.02},{"x":1.7,"y":0.4,"e":0.02},{"x":1.75,"y":0.39,"e":0.02},{"x":1.8,"y":0.41,"e":0.02},{"x":1.85,"y":0.39,"e":0.02},{"x":1.9,"y":0.41,"e":0.02},{"x":1.95,"y":0.4,"e":0.02},{"x":2.0,"y":0.42,"e":0.02},{"x":2.05,"y":0.4,"e":0.02},{"x":2.1,"y":0.42,"e":0.02},{"x":2.15,"y":0.41,"e":0.02},{"x":2.2,"y":0.4,"e":0.02},{"x":2.25,"y":0.39,"e":0.02},{"x":2.3,"y":0.38,"e":0.02},{"x":2.35,"y":0.36,"e":0.02},{"x":2.4,"y":0.35,"e":0.02},{"x":2.45,"y":0.33,"e":0.02},{"x":2.5,"y":0.32,"e":0.02},{"x":2.55,"y":0.3,"e":0.02},{"x":2.6,"y":0.29,"e":0.02},{"x":2.65,"y":0.27,"e":0.018},{"x":2.7,"y":0.26,"e":0.018},{"x":2.75,"y":0.25,"e":0.018},{"x":2.8,"y":0.23,"e":0.018},{"x":2.85,"y":0.23,"e":0.018},{"x":2.9,"y":0.21,"e":0.016},{"x":2.95,"y":0.2,"e":0.016},{"x":3.0,"y":0.2,"e":0.016},{"x":3.1,"y":0.185,"e":0.015},{"x":3.2,"y":0.18,"e":0.015},{"x":3.3,"y":0.18,"e":0.015},{"x":3.4,"y":0.17,"e":0.015},{"x":3.5,"y":0.18,"e":0.015},{"x":3.6,"y":0.17,"e":0.015},{"x":3.7,"y":0.18,"e":0.015},{"x":3.8,"y":0.175,"e":0.015},{"x":3.9,"y":0.18,"e":0.015},{"x":4.0,"y":0.17,"e":0.015},{"x":4.1,"y":0.17,"e":0.015},{"x":4.2,"y":0.165,"e":0.015},{"x":4.3,"y":0.16,"e":0.015},{"x":4.4,"y":0.155,"e":0.014},{"x":4.5,"y":0.15,"e":0.014},{"x":4.6,"y":0.14,"e":0.014},{"x":4.7,"y":0.13,"e":0.013},{"x":4.8,"y":0.12,"e":0.013},{"x":4.9,"y":0.11,"e":0.012},{"x":5.0,"y":0.1,"e":0.012},{"x":5.1,"y":0.09,"e":0.011},{"x":5.2,"y":0.085,"e":0.011},{"x":5.3,"y":0.075,"e":0.01},{"x":5.4,"y":0.07,"e":0.01},{"x":5.5,"y":0.06,"e":0.01},{"x":5.6,"y":0.055,"e":0.009},{"x":5.7,"y":0.05,"e":0.009},{"x":5.8,"y":0.045,"e":0.008},{"x":5.9,"y":0.04,"e":0.008},{"x":6.0,"y":0.035,"e":0.008},{"x":6.1,"y":0.033,"e":0.007},{"x":6.2,"y":0.028,"e":0.007},{"x":6.3,"y":0.026,"e":0.007},{"x":6.4,"y":0.022,"e":0.006},{"x":6.5,"y":0.02,"e":0.006},{"x":6.6,"y":0.018,"e":0.006},{"x":6.7,"y":0.016,"e":0.005},{"x":6.8,"y":0.014,"e":0.005},{"x":6.9,"y":0.013,"e":0.005},{"x":7.0,"y":0.012,"e":0.005}
  ],
  "f_fit": [{"x":0.05,"y":0.0},{"x":0.12,"y":0.04},{"x":0.2,"y":0.07},{"x":0.25,"y":0.07},{"x":0.3,"y":0.06},{"x":0.4,"y":0.06},{"x":0.5,"y":0.08},{"x":0.6,"y":0.11},{"x":0.7,"y":0.14},{"x":0.8,"y":0.18},{"x":0.9,"y":0.22},{"x":1.0,"y":0.25},{"x":1.1,"y":0.28},{"x":1.2,"y":0.31},{"x":1.3,"y":0.34},{"x":1.4,"y":0.36},{"x":1.5,"y":0.37},{"x":1.6,"y":0.385},{"x":1.7,"y":0.39},{"x":1.8,"y":0.395},{"x":1.9,"y":0.4},{"x":2.0,"y":0.405},{"x":2.1,"y":0.41},{"x":2.2,"y":0.4},{"x":2.3,"y":0.38},{"x":2.4,"y":0.35},{"x":2.5,"y":0.32},{"x":2.6,"y":0.29},{"x":2.7,"y":0.26},{"x":2.8,"y":0.235},{"x":2.9,"y":0.21},{"x":3.0,"y":0.195},{"x":3.2,"y":0.18},{"x":3.4,"y":0.175},{"x":3.6,"y":0.175},{"x":3.8,"y":0.175},{"x":4.0,"y":0.17},{"x":4.2,"y":0.165},{"x":4.4,"y":0.155},{"x":4.6,"y":0.14},{"x":4.8,"y":0.12},{"x":5.0,"y":0.1},{"x":5.3,"y":0.075},{"x":5.6,"y":0.055},{"x":6.0,"y":0.035},{"x":6.5,"y":0.02},{"x":7.0,"y":0.012}],
  "f_cmp": [
    {"c":"1","x":0.1,"y":0.0},{"c":"1","x":0.15,"y":0.04},{"c":"1","x":0.2,"y":0.08},{"c":"1","x":0.23,"y":0.09},{"c":"1","x":0.28,"y":0.07},{"c":"1","x":0.35,"y":0.03},{"c":"1","x":0.5,"y":0.01},{"c":"1","x":0.8,"y":0.0},
    {"c":"2","x":0.5,"y":0.01},{"c":"2","x":0.8,"y":0.06},{"c":"2","x":1.0,"y":0.12},{"c":"2","x":1.2,"y":0.18},{"c":"2","x":1.42,"y":0.2},{"c":"2","x":1.6,"y":0.18},{"c":"2","x":1.8,"y":0.13},{"c":"2","x":2.0,"y":0.08},{"c":"2","x":2.3,"y":0.04},{"c":"2","x":2.7,"y":0.01},
    {"c":"3","x":1.2,"y":0.01},{"c":"3","x":1.5,"y":0.06},{"c":"3","x":1.8,"y":0.16},{"c":"3","x":2.0,"y":0.22},{"c":"3","x":2.1,"y":0.23},{"c":"3","x":2.3,"y":0.2},{"c":"3","x":2.5,"y":0.13},{"c":"3","x":2.8,"y":0.05},{"c":"3","x":3.1,"y":0.015},
    {"c":"4","x":2.0,"y":0.01},{"c":"4","x":2.5,"y":0.03},{"c":"4","x":3.0,"y":0.06},{"c":"4","x":3.5,"y":0.1},{"c":"4","x":4.0,"y":0.125},{"c":"4","x":4.4,"y":0.13},{"c":"4","x":4.8,"y":0.11},{"c":"4","x":5.2,"y":0.08},{"c":"4","x":5.6,"y":0.05},{"c":"4","x":6.0,"y":0.025},{"c":"4","x":6.5,"y":0.01}
  ],
  "f_bg": [{"x":0.2,"y":0.0},{"x":0.5,"y":0.03},{"x":1.0,"y":0.065},{"x":1.5,"y":0.09},{"x":2.0,"y":0.1},{"x":2.5,"y":0.1},{"x":3.0,"y":0.09},{"x":3.5,"y":0.075},{"x":4.0,"y":0.06},{"x":5.0,"y":0.035},{"x":6.0,"y":0.02},{"x":7.0,"y":0.01}],
  "f_rule": [{"x":0.227,"y":0.2,"y0":0},{"x":1.422,"y":0.45,"y0":0},{"x":2.103,"y":0.46,"y0":0},{"x":4.39,"y":0.31,"y0":0}],
  "f_lab": [{"x":0.227,"y":0.22,"t":"227(88)"},{"x":1.422,"y":0.47,"t":"1422(88)"},{"x":2.103,"y":0.48,"t":"2103(120)"},{"x":4.39,"y":0.32,"t":"4390(170)"}],
  "f_txt": [{"x":6.7,"y":0.605,"t":"(f)"}]
},
"concat": [
  {
    "width": 246, "height": 130,
    "title": {"text": "×10³", "anchor": "start", "frame": "group", "dx": -16, "offset": 2, "fontSize": 11, "fontWeight": "normal"},
    "encoding": {
      "x": {"field": "x", "type": "quantitative", "scale": {"domain": [0, 5], "nice": false, "zero": false},
        "axis": {"orient": "bottom", "title": null, "labels": false, "values": [0,0.2,0.4,0.6,0.8,1,1.2,1.4,1.6,1.8,2,2.2,2.4,2.6,2.8,3,3.2,3.4,3.6,3.8,4,4.2,4.4,4.6,4.8,5], "tickSize": {"condition": {"test": "abs(datum.value-round(datum.value))<0.001", "value": -6}, "value": -3}}},
      "y": {"field": "y", "type": "quantitative", "scale": {"domain": [0, 3.5], "nice": false},
        "axis": {"orient": "left", "title": "Counts", "titleX": -9, "values": [0,0.25,0.5,0.75,1,1.25,1.5,1.75,2,2.25,2.5,2.75,3,3.25,3.5], "labelExpr": "datum.value>0.5 && abs(datum.value-round(datum.value))<0.001 ? format(datum.value,'d') : ''", "tickSize": {"condition": {"test": "abs(datum.value-round(datum.value))<0.001", "value": -6}, "value": -3}}}
    },
    "layer": [
      {"data": {"name": "a_cmp"}, "mark": {"type": "line", "color": "#0000ff", "strokeWidth": 0.9, "interpolate": "monotone"}, "encoding": {"detail": {"field": "c", "type": "nominal"}}},
      {"data": {"name": "a_fit"}, "mark": {"type": "line", "color": "#ff0000", "strokeWidth": 2, "interpolate": "monotone"}, "encoding": {"detail": {"field": "s", "type": "nominal"}}},
      {"data": {"name": "a_pts"}, "mark": {"type": "point", "shape": "square", "filled": true, "color": "black", "size": 5, "opacity": 1}},
      {"data": {"name": "a_rule"}, "mark": {"type": "rule", "color": "#0000ff", "strokeWidth": 1.3}, "encoding": {"y2": {"field": "y0"}}},
      {"data": {"name": "a_bar"}, "mark": {"type": "rule", "color": "black", "strokeWidth": 2.2}, "encoding": {"y2": {"field": "y0"}}},
      {"data": {"name": "a_lab"}, "mark": {"type": "text", "angle": 270, "align": "left", "baseline": "middle", "dx": 2, "color": "#0000ff", "fontSize": 7.2, "fontWeight": "bold"}, "encoding": {"text": {"field": "t"}}},
      {"data": {"name": "a_labh"}, "mark": {"type": "text", "align": "center", "baseline": "bottom", "color": "#0000ff", "fontSize": 7.5, "fontWeight": "bold"}, "encoding": {"text": {"field": "t"}}},
      {"data": {"name": "a_dot"}, "mark": {"type": "circle", "color": "#f5a31a", "size": 28, "opacity": 1}},
      {"data": {"name": "a_txt"}, "mark": {"type": "text", "align": "center", "baseline": "middle", "fontSize": 11.5, "color": "black"}, "encoding": {"text": {"field": "t"}}}
    ]
  },
  {
    "width": 169, "height": 130,
    "title": {"text": "γ-gated", "fontSize": 13, "fontWeight": "bold", "offset": 2, "anchor": "middle"},
    "resolve": {"scale": {"x": "independent", "y": "independent"}},
    "layer": [
      {
        "encoding": {
          "x": {"field": "x", "type": "quantitative", "scale": {"domain": [0, 5], "nice": false, "zero": false},
            "axis": {"orient": "bottom", "title": null, "labels": false, "values": [0,0.2,0.4,0.6,0.8,1,1.2,1.4,1.6,1.8,2,2.2,2.4,2.6,2.8,3,3.2,3.4,3.6,3.8,4,4.2,4.4,4.6,4.8,5], "tickSize": {"condition": {"test": "abs(datum.value-round(datum.value))<0.001", "value": -6}, "value": -3}}},
          "y": {"field": "y", "type": "quantitative", "scale": {"domain": [0, 2.45], "nice": false},
            "axis": {"orient": "left", "title": "×10³", "titleAngle": 0, "titleX": -14, "titleY": -3, "titleAlign": "left", "titleBaseline": "alphabetic", "titleFontWeight": "normal", "titleFontSize": 11, "values": [0,0.1,0.2,0.3,0.4,0.5,0.6,0.7,0.8,0.9,1,1.1,1.2,1.3,1.4,1.5,1.6,1.7,1.8,1.9,2,2.1,2.2,2.3,2.4], "labelExpr": "abs(datum.value*2-round(datum.value*2))<0.001 ? format(datum.value,'~g') : ''", "tickSize": {"condition": {"test": "abs(datum.value*2-round(datum.value*2))<0.001", "value": -6}, "value": -3}}}
        },
        "layer": [
          {"data": {"name": "c_base"}, "mark": {"type": "line", "color": "#0000ff", "strokeWidth": 1, "strokeDash": [4, 3]}},
          {"data": {"name": "c_cmp"}, "mark": {"type": "line", "color": "#0000ff", "strokeWidth": 0.9, "interpolate": "monotone"}},
          {"data": {"name": "c_blue"}, "mark": {"type": "line", "color": "#0000ff", "strokeWidth": 1.2, "interpolate": "step-after"}},
          {"data": {"name": "c_hist"}, "mark": {"type": "line", "color": "#ff0000", "strokeWidth": 1.6, "interpolate": "step-after"}},
          {"data": {"name": "c_pts"}, "mark": {"type": "errorbar", "color": "black", "thickness": 1}, "encoding": {"yError": {"field": "e"}}},
          {"data": {"name": "c_pts"}, "mark": {"type": "errorbar", "color": "black", "thickness": 1}, "encoding": {"x": {"field": "x", "type": "quantitative"}, "xError": {"field": "xe"}, "y": {"field": "y", "type": "quantitative"}}},
          {"data": {"name": "c_pts"}, "mark": {"type": "point", "shape": "square", "filled": true, "color": "black", "size": 5, "opacity": 1}},
          {"data": {"name": "c_rule"}, "mark": {"type": "rule", "color": "#0000ff", "strokeWidth": 1.3}, "encoding": {"y2": {"field": "y0"}}},
          {"data": {"name": "c_lab"}, "mark": {"type": "text", "angle": 270, "align": "left", "baseline": "middle", "dx": 2, "color": "#0000ff", "fontSize": 7.2, "fontWeight": "bold"}, "encoding": {"text": {"field": "t"}}},
          {"data": {"name": "c_labh"}, "mark": {"type": "text", "align": "center", "baseline": "bottom", "color": "#0000ff", "fontSize": 7.5, "fontWeight": "bold"}, "encoding": {"text": {"field": "t"}}}
        ]
      },
      {
        "encoding": {
          "x": {"field": "x", "type": "quantitative", "scale": {"domain": [0.5, 1.3], "range": [65, 169], "nice": false, "zero": false},
            "axis": {"orient": "bottom", "offset": -74, "title": "Eᵧ(²⁷F) (MeV)", "titleFontSize": 10, "titlePadding": 1, "labelFontSize": 9, "labelPadding": 6, "values": [0.5,0.55,0.6,0.65,0.7,0.75,0.8,0.85,0.9,0.95,1,1.05,1.1,1.15,1.2,1.25,1.3], "labelExpr": "datum.value>0.55 && abs(datum.value*5-round(datum.value*5))<0.001 ? format(datum.value,'~g') : ''", "tickSize": {"condition": {"test": "abs(datum.value*5-round(datum.value*5))<0.001", "value": -4}, "value": -2}}},
          "y": {"field": "y", "type": "quantitative", "scale": {"domain": [0.05, 0.87], "range": [56, 0], "nice": false, "zero": false},
            "axis": {"orient": "left", "offset": -65, "title": null, "labelFontSize": 9, "labelPadding": 6, "values": [0.1,0.15,0.2,0.25,0.3,0.35,0.4,0.45,0.5,0.55,0.6,0.65,0.7,0.75,0.8,0.85], "labelExpr": "abs(datum.value*5-round(datum.value*5))<0.001 ? format(datum.value,'~g') : ''", "tickSize": {"condition": {"test": "abs(datum.value*5-round(datum.value*5))<0.001", "value": -4}, "value": -2}}}
        },
        "layer": [
          {"data": {"values": [{}]}, "mark": {"type": "rect", "fill": "white", "stroke": "black", "strokeWidth": 1.2}, "encoding": {"x": {"datum": 0.5, "type": "quantitative"}, "x2": {"datum": 1.3}, "y": {"datum": 0.05, "type": "quantitative"}, "y2": {"datum": 0.87}}},
          {"data": {"name": "ci_bg"}, "mark": {"type": "line", "color": "#0000ff", "strokeWidth": 1.2, "strokeDash": [5, 3]}},
          {"data": {"name": "ci_g"}, "mark": {"type": "line", "color": "#0000ff", "strokeWidth": 1.3, "interpolate": "monotone"}},
          {"data": {"name": "ci_fit"}, "mark": {"type": "line", "color": "#ff0000", "strokeWidth": 1.6, "interpolate": "monotone"}},
          {"data": {"name": "ci_pts"}, "mark": {"type": "errorbar", "color": "black", "thickness": 1}, "encoding": {"yError": {"field": "e"}}},
          {"data": {"name": "ci_pts"}, "mark": {"type": "point", "shape": "square", "filled": true, "color": "black", "size": 5, "opacity": 1}},
          {"data": {"name": "ci_txt"}, "mark": {"type": "text", "align": "center", "baseline": "middle", "fontSize": 11.5, "color": "black"}, "encoding": {"text": {"field": "t"}}}
        ]
      }
    ]
  },
  {
    "width": 245, "height": 130,
    "title": {"text": "²⁹Ne(−1p)", "orient": "right", "fontSize": 12.5, "fontWeight": "bold", "offset": 6},
    "resolve": {"scale": {"x": "independent"}},
    "layer": [
      {
        "encoding": {
          "x": {"field": "x", "type": "quantitative", "scale": {"domain": [0, 7], "nice": false, "zero": false},
            "axis": {"orient": "bottom", "title": null, "labels": false, "values": [0,0.5,1,1.5,2,2.5,3,3.5,4,4.5,5,5.5,6,6.5,7], "tickSize": {"condition": {"test": "abs(datum.value-round(datum.value))<0.001", "value": -6}, "value": -3}}},
          "y": {"field": "y", "type": "quantitative", "scale": {"domain": [0, 1.3], "nice": false},
            "axis": {"orient": "left", "title": "×10³", "titleAngle": 0, "titleX": -15, "titleY": -3, "titleAlign": "left", "titleBaseline": "alphabetic", "titleFontWeight": "normal", "titleFontSize": 11, "values": [0,0.1,0.2,0.3,0.4,0.5,0.6,0.7,0.8,0.9,1,1.1,1.2,1.3], "labelExpr": "datum.value>0 && abs(datum.value*2-round(datum.value*2))<0.001 ? format(datum.value,'~g') : ''", "tickSize": {"condition": {"test": "abs(datum.value*2-round(datum.value*2))<0.001", "value": -6}, "value": -3}}}
        },
        "layer": [
          {"data": {"name": "e_cmp"}, "mark": {"type": "line", "color": "#0000ff", "strokeWidth": 0.9, "interpolate": "monotone"}, "encoding": {"detail": {"field": "c", "type": "nominal"}}},
          {"data": {"name": "e_bg"}, "mark": {"type": "line", "color": "black", "strokeWidth": 1.2, "strokeDash": [5, 3], "interpolate": "monotone"}},
          {"data": {"name": "e_fit"}, "mark": {"type": "line", "color": "#ff0000", "strokeWidth": 1.6, "interpolate": "monotone"}},
          {"data": {"name": "e_pts"}, "mark": {"type": "errorbar", "color": "black", "thickness": 1}, "encoding": {"yError": {"field": "e"}}},
          {"data": {"name": "e_pts"}, "mark": {"type": "point", "shape": "square", "filled": true, "color": "black", "size": 4, "opacity": 1}},
          {"data": {"name": "e_rule"}, "mark": {"type": "rule", "color": "#0000ff", "strokeWidth": 1.3}, "encoding": {"y2": {"field": "y0"}}},
          {"data": {"name": "e_lab"}, "mark": {"type": "text", "angle": 270, "align": "left", "baseline": "middle", "dx": 2, "color": "#0000ff", "fontSize": 6.4, "fontWeight": "bold"}, "encoding": {"text": {"field": "t"}}},
          {"data": {"name": "e_dot"}, "mark": {"type": "circle", "color": "#f5a31a", "size": 28, "opacity": 1}},
          {"data": {"name": "e_txt"}, "mark": {"type": "text", "align": "center", "baseline": "middle", "fontSize": 11.5, "color": "black"}, "encoding": {"text": {"field": "t"}}}
        ]
      },
      {
        "data": {"name": "e_top"},
        "mark": {"type": "point", "opacity": 0},
        "encoding": {
          "x": {"field": "E", "type": "quantitative", "scale": {"domain": [1.65, 8.65], "nice": false, "zero": false},
            "axis": {"orient": "top", "title": "E(MeV)", "titleFontSize": 13, "titlePadding": 3, "labelPadding": 8, "values": [2,2.5,3,3.5,4,4.5,5,5.5,6,6.5,7,7.5,8,8.5], "labelExpr": "abs(datum.value/2-round(datum.value/2))<0.001 ? format(datum.value,'d') : ''", "tickSize": {"condition": {"test": "abs(datum.value/2-round(datum.value/2))<0.001", "value": -6}, "value": -3}}}
        }
      }
    ]
  },
  {
    "width": 246, "height": 128,
    "encoding": {
      "x": {"field": "x", "type": "quantitative", "scale": {"domain": [0, 5], "nice": false, "zero": false},
        "axis": {"orient": "bottom", "title": "Eᵣₑₗ(²⁷F+n) (MeV)", "titlePadding": 3, "labelPadding": 7, "values": [0,0.2,0.4,0.6,0.8,1,1.2,1.4,1.6,1.8,2,2.2,2.4,2.6,2.8,3,3.2,3.4,3.6,3.8,4,4.2,4.4,4.6,4.8,5], "labelExpr": "abs(datum.value-round(datum.value))<0.001 ? format(datum.value,'d') : ''", "tickSize": {"condition": {"test": "abs(datum.value-round(datum.value))<0.001", "value": -6}, "value": -3}}},
      "y": {"field": "y", "type": "quantitative", "scale": {"domain": [0, 10.4], "nice": false},
        "axis": {"orient": "left", "title": "Counts", "titleX": -9, "values": [0,1,2,3,4,5,6,7,8,9,10], "labelExpr": "datum.value==5 || datum.value==10 ? format(datum.value,'d') : ''", "tickSize": {"condition": {"test": "datum.value==5 || datum.value==10", "value": -6}, "value": -3}}}
    },
    "layer": [
      {"data": {"name": "b_cmp"}, "mark": {"type": "line", "color": "#0000ff", "strokeWidth": 0.9, "interpolate": "monotone"}, "encoding": {"detail": {"field": "c", "type": "nominal"}}},
      {"data": {"name": "b_fit"}, "mark": {"type": "line", "color": "#ff0000", "strokeWidth": 2, "interpolate": "monotone"}, "encoding": {"detail": {"field": "s", "type": "nominal"}}},
      {"data": {"name": "b_pts"}, "mark": {"type": "point", "shape": "square", "filled": true, "color": "black", "size": 5, "opacity": 1}},
      {"data": {"name": "b_rule"}, "mark": {"type": "rule", "color": "#0000ff", "strokeWidth": 1.3}, "encoding": {"y2": {"field": "y0"}}},
      {"data": {"name": "b_bar"}, "mark": {"type": "rule", "color": "black", "strokeWidth": 2.2}, "encoding": {"y2": {"field": "y0"}}},
      {"data": {"name": "b_lab"}, "mark": {"type": "text", "angle": 270, "align": "left", "baseline": "middle", "dx": 2, "color": "#0000ff", "fontSize": 7.2, "fontWeight": "bold"}, "encoding": {"text": {"field": "t"}}},
      {"data": {"name": "b_labh"}, "mark": {"type": "text", "align": "center", "baseline": "bottom", "color": "#0000ff", "fontSize": 7.5, "fontWeight": "bold"}, "encoding": {"text": {"field": "t"}}},
      {"data": {"name": "b_dot"}, "mark": {"type": "circle", "color": "#f5a31a", "size": 28, "opacity": 1}},
      {"data": {"name": "b_txt"}, "mark": {"type": "text", "align": "center", "baseline": "middle", "fontSize": 11.5, "color": "black"}, "encoding": {"text": {"field": "t"}}}
    ]
  },
  {
    "width": 169, "height": 128,
    "resolve": {"scale": {"x": "independent", "y": "independent"}},
    "layer": [
      {
        "encoding": {
          "x": {"field": "x", "type": "quantitative", "scale": {"domain": [0, 5], "nice": false, "zero": false},
            "axis": {"orient": "bottom", "title": "Eᵣₑₗ(²⁷F+n) (MeV)", "titlePadding": 3, "labelPadding": 7, "values": [0,0.2,0.4,0.6,0.8,1,1.2,1.4,1.6,1.8,2,2.2,2.4,2.6,2.8,3,3.2,3.4,3.6,3.8,4,4.2,4.4,4.6,4.8,5], "labelExpr": "abs(datum.value-round(datum.value))<0.001 ? format(datum.value,'d') : ''", "tickSize": {"condition": {"test": "abs(datum.value-round(datum.value))<0.001", "value": -6}, "value": -3}}},
          "y": {"field": "y", "type": "quantitative", "scale": {"domain": [0, 0.49], "nice": false},
            "axis": {"orient": "left", "title": null, "values": [0,0.05,0.1,0.15,0.2,0.25,0.3,0.35,0.4,0.45], "labelExpr": "abs(datum.value*5-round(datum.value*5))<0.001 ? format(datum.value,'~g') : ''", "tickSize": {"condition": {"test": "abs(datum.value*5-round(datum.value*5))<0.001", "value": -6}, "value": -3}}}
        },
        "layer": [
          {"data": {"name": "d_base"}, "mark": {"type": "line", "color": "#0000ff", "strokeWidth": 1, "strokeDash": [4, 3]}},
          {"data": {"name": "d_cmp"}, "mark": {"type": "line", "color": "#0000ff", "strokeWidth": 0.9, "interpolate": "monotone"}},
          {"data": {"name": "d_blue"}, "mark": {"type": "line", "color": "#0000ff", "strokeWidth": 1.2, "interpolate": "step-after"}},
          {"data": {"name": "d_hist"}, "mark": {"type": "line", "color": "#ff0000", "strokeWidth": 1.6, "interpolate": "step-after"}},
          {"data": {"name": "d_pts"}, "mark": {"type": "errorbar", "color": "black", "thickness": 1}, "encoding": {"yError": {"field": "e"}}},
          {"data": {"name": "d_pts"}, "mark": {"type": "errorbar", "color": "black", "thickness": 1}, "encoding": {"x": {"field": "x", "type": "quantitative"}, "xError": {"field": "xe"}, "y": {"field": "y", "type": "quantitative"}}},
          {"data": {"name": "d_pts"}, "mark": {"type": "point", "shape": "square", "filled": true, "color": "black", "size": 5, "opacity": 1}},
          {"data": {"name": "d_rule"}, "mark": {"type": "rule", "color": "#0000ff", "strokeWidth": 1.3}, "encoding": {"y2": {"field": "y0"}}},
          {"data": {"name": "d_lab"}, "mark": {"type": "text", "angle": 270, "align": "left", "baseline": "middle", "dx": 2, "color": "#0000ff", "fontSize": 7.2, "fontWeight": "bold"}, "encoding": {"text": {"field": "t"}}},
          {"data": {"name": "d_labh"}, "mark": {"type": "text", "align": "center", "baseline": "bottom", "color": "#0000ff", "fontSize": 7.5, "fontWeight": "bold"}, "encoding": {"text": {"field": "t"}}}
        ]
      },
      {
        "encoding": {
          "x": {"field": "x", "type": "quantitative", "scale": {"domain": [0.5, 1.3], "range": [65, 169], "nice": false, "zero": false},
            "axis": {"orient": "bottom", "offset": -73, "title": "Eᵧ(²⁷F) (MeV)", "titleFontSize": 10, "titlePadding": 1, "labelFontSize": 9, "labelPadding": 6, "values": [0.5,0.55,0.6,0.65,0.7,0.75,0.8,0.85,0.9,0.95,1,1.05,1.1,1.15,1.2,1.25,1.3], "labelExpr": "datum.value>0.55 && abs(datum.value*5-round(datum.value*5))<0.001 ? format(datum.value,'~g') : ''", "tickSize": {"condition": {"test": "abs(datum.value*5-round(datum.value*5))<0.001", "value": -4}, "value": -2}}},
          "y": {"field": "y", "type": "quantitative", "scale": {"domain": [0.02, 0.68], "range": [55, 0], "nice": false, "zero": false},
            "axis": {"orient": "left", "offset": -65, "title": null, "labelFontSize": 9, "labelPadding": 6, "values": [0.05,0.1,0.15,0.2,0.25,0.3,0.35,0.4,0.45,0.5,0.55,0.6,0.65], "labelExpr": "abs(datum.value*5-round(datum.value*5))<0.001 ? format(datum.value,'~g') : ''", "tickSize": {"condition": {"test": "abs(datum.value*5-round(datum.value*5))<0.001", "value": -4}, "value": -2}}}
        },
        "layer": [
          {"data": {"values": [{}]}, "mark": {"type": "rect", "fill": "white", "stroke": "black", "strokeWidth": 1.2}, "encoding": {"x": {"datum": 0.5, "type": "quantitative"}, "x2": {"datum": 1.3}, "y": {"datum": 0.02, "type": "quantitative"}, "y2": {"datum": 0.68}}},
          {"data": {"name": "di_bg"}, "mark": {"type": "line", "color": "#0000ff", "strokeWidth": 1.2, "strokeDash": [5, 3]}},
          {"data": {"name": "di_g"}, "mark": {"type": "line", "color": "#0000ff", "strokeWidth": 1.3, "interpolate": "monotone"}},
          {"data": {"name": "di_fit"}, "mark": {"type": "line", "color": "#ff0000", "strokeWidth": 1.6, "interpolate": "monotone"}},
          {"data": {"name": "di_pts"}, "mark": {"type": "errorbar", "color": "black", "thickness": 1}, "encoding": {"yError": {"field": "e"}}},
          {"data": {"name": "di_pts"}, "mark": {"type": "point", "shape": "square", "filled": true, "color": "black", "size": 5, "opacity": 1}},
          {"data": {"name": "di_txt"}, "mark": {"type": "text", "align": "center", "baseline": "middle", "fontSize": 11.5, "color": "black"}, "encoding": {"text": {"field": "t"}}}
        ]
      }
    ]
  },
  {
    "width": 245, "height": 128,
    "title": {"text": "²⁹F(−1n)", "orient": "right", "fontSize": 12.5, "fontWeight": "bold", "offset": 6},
    "encoding": {
      "x": {"field": "x", "type": "quantitative", "scale": {"domain": [0, 7], "nice": false, "zero": false},
        "axis": {"orient": "bottom", "title": "Eᵣₑₗ(²⁶F+2n) (MeV)", "titlePadding": 3, "labelPadding": 7, "values": [0,0.5,1,1.5,2,2.5,3,3.5,4,4.5,5,5.5,6,6.5,7], "labelExpr": "abs(datum.value/2-round(datum.value/2))<0.001 ? format(datum.value,'d') : ''", "tickSize": {"condition": {"test": "abs(datum.value-round(datum.value))<0.001", "value": -6}, "value": -3}}},
      "y": {"field": "y", "type": "quantitative", "scale": {"domain": [0, 0.7], "nice": false},
        "axis": {"orient": "left", "title": null, "values": [0,0.05,0.1,0.15,0.2,0.25,0.3,0.35,0.4,0.45,0.5,0.55,0.6,0.65,0.7], "labelExpr": "datum.value>0 && abs(datum.value*5-round(datum.value*5))<0.001 ? format(datum.value,'~g') : ''", "tickSize": {"condition": {"test": "abs(datum.value*5-round(datum.value*5))<0.001", "value": -6}, "value": -3}}}
    },
    "layer": [
      {"data": {"name": "f_cmp"}, "mark": {"type": "line", "color": "#0000ff", "strokeWidth": 0.9, "interpolate": "monotone"}, "encoding": {"detail": {"field": "c", "type": "nominal"}}},
      {"data": {"name": "f_bg"}, "mark": {"type": "line", "color": "black", "strokeWidth": 1.2, "strokeDash": [5, 3], "interpolate": "monotone"}},
      {"data": {"name": "f_fit"}, "mark": {"type": "line", "color": "#ff0000", "strokeWidth": 1.6, "interpolate": "monotone"}},
      {"data": {"name": "f_pts"}, "mark": {"type": "errorbar", "color": "black", "thickness": 1}, "encoding": {"yError": {"field": "e"}}},
      {"data": {"name": "f_pts"}, "mark": {"type": "point", "shape": "square", "filled": true, "color": "black", "size": 4, "opacity": 1}},
      {"data": {"name": "f_rule"}, "mark": {"type": "rule", "color": "#0000ff", "strokeWidth": 1.3}, "encoding": {"y2": {"field": "y0"}}},
      {"data": {"name": "f_lab"}, "mark": {"type": "text", "angle": 270, "align": "left", "baseline": "middle", "dx": 2, "color": "#0000ff", "fontSize": 6.6, "fontWeight": "bold"}, "encoding": {"text": {"field": "t"}}},
      {"data": {"name": "f_txt"}, "mark": {"type": "text", "align": "center", "baseline": "middle", "fontSize": 11.5, "color": "black"}, "encoding": {"text": {"field": "t"}}}
    ]
  }
]
}
